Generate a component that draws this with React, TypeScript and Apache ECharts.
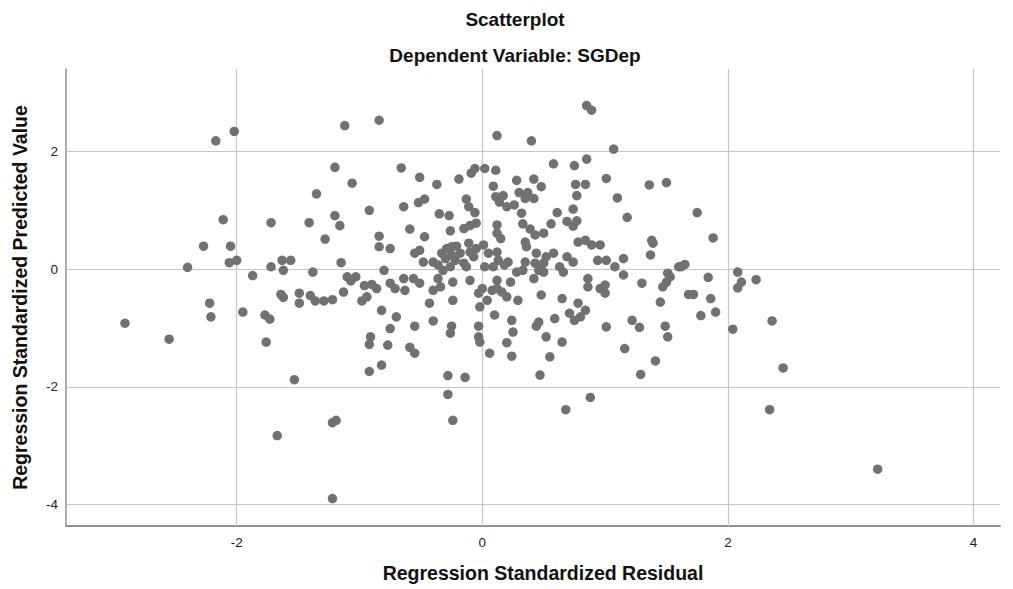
import React, { useEffect, useRef } from "react";
import * as echarts from "echarts";

// [Regression Standardized Residual, Regression Standardized Predicted Value]
const pointsUpper: number[][] = [
  [-2.17, 2.18], [-2.02, 2.34], [-1.12, 2.44], [-0.84, 2.53], [-1.2, 1.73], [-1.06, 1.46], [-1.35, 1.28],
  [-0.92, 1.0], [-1.2, 0.91], [-1.16, 0.74], [-2.11, 0.84], [-1.72, 0.79], [-1.41, 0.79],
  [0.85, 2.78], [0.89, 2.7], [0.12, 2.27], [0.4, 2.18], [1.07, 2.04], [-0.66, 1.72], [-0.51, 1.56],
  [-0.37, 1.44], [-0.19, 1.53], [-0.09, 1.63], [-0.06, 1.71], [0.02, 1.71], [0.11, 1.68], [0.58, 1.79],
  [0.75, 1.76], [0.85, 1.87], [1.01, 1.54], [1.36, 1.43], [1.5, 1.47], [0.28, 1.51], [0.42, 1.53],
  [0.48, 1.4], [0.09, 1.41], [0.76, 1.44], [0.84, 1.44], [0.77, 1.25], [1.1, 1.21], [1.18, 0.88],
  [-0.13, 1.19], [-0.11, 1.06], [-0.06, 0.96], [-0.47, 1.19], [-0.52, 1.13], [-0.64, 1.06], [-0.35, 0.94],
  [-0.27, 0.91], [0.11, 1.23], [0.17, 1.25], [0.14, 1.14], [0.2, 1.06], [0.26, 1.09], [0.3, 1.3],
  [0.37, 1.3], [0.35, 1.2], [0.42, 1.2], [0.32, 0.95], [0.61, 0.96], [0.74, 1.02], [0.69, 0.81],
  [0.77, 0.82], [0.74, 0.73], [0.56, 0.77], [0.33, 0.77], [0.39, 0.68], [0.12, 0.75], [-0.05, 0.78],
  [-0.1, 0.74], [-0.15, 0.69], [-0.59, 0.68], [-0.26, 0.65], [1.75, 0.96],
];

const pointsLeft: number[][] = [
  [-2.27, 0.39], [-2.05, 0.39], [-2.4, 0.03], [-2.06, 0.11], [-2.0, 0.15], [-1.87, -0.11], [-1.72, 0.04],
  [-1.63, 0.15], [-1.56, 0.15], [-1.62, -0.02], [-1.38, -0.05], [-1.28, 0.51], [-1.15, 0.11], [-0.84, 0.56],
  [-0.84, 0.38], [-0.8, -0.02], [-1.1, -0.13], [-1.07, -0.2], [-1.03, -0.13], [-0.96, -0.28], [-0.9, -0.26],
  [-0.86, -0.33], [-1.64, -0.43], [-1.62, -0.48], [-1.49, -0.41], [-1.49, -0.58], [-1.4, -0.45], [-1.36, -0.54],
  [-1.29, -0.54], [-1.22, -0.52], [-1.13, -0.39], [-0.98, -0.54], [-0.94, -0.47], [-0.82, -0.7], [-2.22, -0.58],
  [-2.21, -0.81], [-1.95, -0.73], [-1.77, -0.78], [-1.73, -0.85], [-2.91, -0.92], [-2.55, -1.19], [-1.76, -1.24],
  [-0.91, -1.15], [-0.92, -1.28], [-0.82, -1.63], [-0.92, -1.74], [-1.53, -1.88],
];

const pointsCenter: number[][] = [
  [0.12, 0.61], [0.15, 0.52], [0.43, 0.58], [0.5, 0.61], [-0.75, 0.35], [-0.47, 0.55], [-0.55, 0.27],
  [-0.51, 0.32], [-0.48, 0.12], [-0.4, 0.12], [-0.36, 0.07], [-0.33, 0.27], [-0.29, 0.35], [-0.25, 0.38],
  [-0.21, 0.39], [-0.3, 0.18], [-0.25, 0.24], [-0.22, 0.15], [-0.18, 0.27], [-0.15, 0.1], [-0.11, 0.44],
  [-0.1, 0.29], [-0.07, 0.21], [-0.05, 0.35], [-0.13, 0.04], [-0.26, 0.04], [-0.32, -0.02], [0.01, 0.41],
  [0.05, 0.27], [0.12, 0.29], [0.13, 0.15], [0.09, 0.04], [0.02, 0.04], [0.18, 0.07], [0.21, 0.12],
  [0.35, 0.46], [0.36, 0.38], [0.44, 0.27], [0.43, 0.1], [0.5, 0.1], [0.52, 0.21], [0.58, 0.27],
  [0.35, 0.12], [0.33, -0.02], [0.28, -0.05], [0.46, -0.02], [0.5, -0.05], [0.69, 0.21], [0.74, 0.12],
  [0.63, 0.04], [0.66, -0.05], [0.78, 0.46], [0.84, 0.49], [0.89, 0.41], [0.96, 0.41], [0.94, 0.15],
  [1.01, 0.15], [1.08, 0.04], [1.15, 0.18], [1.15, -0.1], [1.38, 0.49], [1.39, 0.44], [1.37, 0.24],
  [1.51, -0.07], [1.6, 0.04],
];

const pointsLowerCenter: number[][] = [
  [-0.75, -0.24], [-0.71, -0.33], [-0.64, -0.16], [-0.63, -0.36], [-0.56, -0.16], [-0.51, -0.24], [-0.4, -0.36],
  [-0.34, -0.3], [-0.36, -0.16], [-0.24, -0.22], [-0.1, -0.19], [-0.03, -0.41], [0.0, -0.33], [-0.02, -0.64],
  [0.04, -0.53], [0.08, -0.36], [0.12, -0.19], [0.12, -0.33], [0.16, -0.39], [0.2, -0.47], [0.23, -0.22],
  [0.29, -0.53], [0.42, -0.16], [0.48, -0.44], [0.65, -0.5], [0.78, -0.58], [0.86, -0.16], [0.86, -0.3],
  [0.96, -0.33], [1.0, -0.27], [1.0, -0.41], [1.3, -0.24], [1.47, -0.3], [1.5, -0.22], [1.53, -0.13],
  [1.45, -0.56], [-0.24, -0.53], [-0.43, -0.58], [-0.7, -0.81], [-0.75, -1.01], [-0.55, -0.97], [-0.4, -0.88],
  [-0.25, -0.97], [-0.26, -1.09], [-0.03, -0.97], [-0.03, -1.15], [-0.02, -1.24], [0.1, -0.78], [0.24, -0.87],
  [0.25, -1.07], [0.2, -1.25], [0.46, -0.9], [0.44, -0.97], [0.52, -1.15], [0.59, -0.84], [0.65, -1.24],
  [0.71, -0.75], [0.75, -0.87], [0.8, -0.81], [0.84, -0.7], [1.01, -0.98], [1.22, -0.87], [1.28, -0.99],
  [1.49, -0.97], [1.51, -1.15], [1.16, -1.35], [1.41, -1.56], [0.55, -1.49], [0.24, -1.48], [0.06, -1.43],
  [-0.59, -1.33], [-0.55, -1.43], [-0.77, -1.29],
];

const pointsRightAndTail: number[][] = [
  [1.88, 0.53], [1.65, 0.08], [1.62, 0.04], [1.84, -0.14], [2.08, -0.05], [2.11, -0.22], [2.08, -0.32],
  [2.23, -0.18], [1.68, -0.43], [1.72, -0.43], [1.86, -0.5], [1.78, -0.79], [1.9, -0.73], [2.04, -1.02],
  [2.36, -0.88], [2.45, -1.68],
  [-1.19, -2.57], [-1.22, -2.61], [-1.67, -2.83], [-1.22, -3.9],
  [-0.28, -1.81], [-0.14, -1.84], [-0.28, -2.13], [-0.24, -2.57], [0.47, -1.8], [1.29, -1.79],
  [0.68, -2.39], [0.88, -2.18], [2.34, -2.39], [3.22, -3.4],
];

const xTicks = [-2, 0, 2, 4];
const yTicks = [-4, -2, 0, 2];
const xRange = [-3.39, 4.216];
const yRange = [-4.366, 3.401];

const titleText = "Scatterplot";
const subtitleText = "Dependent Variable: SGDep";
const xName = "Regression Standardized Residual";
const yName = "Regression Standardized Predicted Value";

const FONT = '"Liberation Sans", Arial, Helvetica, sans-serif';

export default function App() {
  const ref = useRef<HTMLDivElement>(null);

  useEffect(() => {
    if (!ref.current) return;
    const chart = echarts.init(ref.current, undefined, { renderer: "svg" });
    const allPoints = [
      ...pointsUpper,
      ...pointsLeft,
      ...pointsCenter,
      ...pointsLowerCenter,
      ...pointsRightAndTail,
    ];
    chart.setOption({
      animation: false,
      backgroundColor: "#ffffff",
      textStyle: { fontFamily: FONT },
      title: [
        {
          text: titleText,
          left: 510,
          textAlign: "center",
          top: 5,
          textStyle: { fontFamily: FONT, fontWeight: "bold", fontSize: 19, color: "#111" },
        },
        {
          text: subtitleText,
          left: 510,
          textAlign: "center",
          top: 41,
          textStyle: { fontFamily: FONT, fontWeight: "bold", fontSize: 19, color: "#111" },
        },
      ],
      grid: { left: 66, right: 13, top: 69, bottom: 63, containLabel: false },
      xAxis: {
        type: "value",
        min: xRange[0],
        max: xRange[1],
        name: xName,
        nameLocation: "middle",
        nameGap: 37,
        nameTextStyle: {
          fontFamily: FONT,
          fontWeight: "bold",
          fontSize: 19.5,
          color: "#111",
          padding: [0, 0, 0, 20],
        },
        axisLine: { show: true, onZero: false, lineStyle: { color: "#929292", width: 2 } },
        axisTick: { show: false },
        splitLine: { show: false },
        axisLabel: {
          customValues: xTicks,
          formatter: (v: number) => String(v),
          fontFamily: FONT,
          fontSize: 13.5,
          color: "#222",
          margin: 9,
        },
      },
      yAxis: {
        type: "value",
        min: yRange[0],
        max: yRange[1],
        name: yName,
        nameLocation: "middle",
        nameGap: 36,
        nameTextStyle: { fontFamily: FONT, fontWeight: "bold", fontSize: 19.5, color: "#111" },
        axisLine: { show: true, onZero: false, lineStyle: { color: "#929292", width: 1.5 } },
        axisTick: { show: false },
        splitLine: { show: false },
        axisLabel: {
          customValues: yTicks,
          formatter: (v: number) => String(v),
          fontFamily: FONT,
          fontSize: 13.5,
          color: "#222",
          margin: 8,
        },
      },
      series: [
        {
          type: "scatter",
          z: 3,
          data: allPoints,
          symbol: "circle",
          symbolSize: 9.5,
          itemStyle: { color: "#717171", opacity: 1 },
          emphasis: { disabled: true },
          markLine: {
            z: 1,
            silent: true,
            symbol: ["none", "none"],
            label: { show: false },
            emphasis: { disabled: true },
            lineStyle: { color: "#c6c6c6", width: 1.2, type: "solid" },
            data: [
              ...xTicks.map((v) => ({ xAxis: v })),
              ...yTicks.map((v) => ({ yAxis: v })),
            ],
          },
        },
      ],
    });
    return () => chart.dispose();
  }, []);

  return (
    <div
      ref={ref}
      style={{ position: "fixed", left: 0, top: 0, width: 1013, height: 589, background: "#fff" }}
    />
  );
}
